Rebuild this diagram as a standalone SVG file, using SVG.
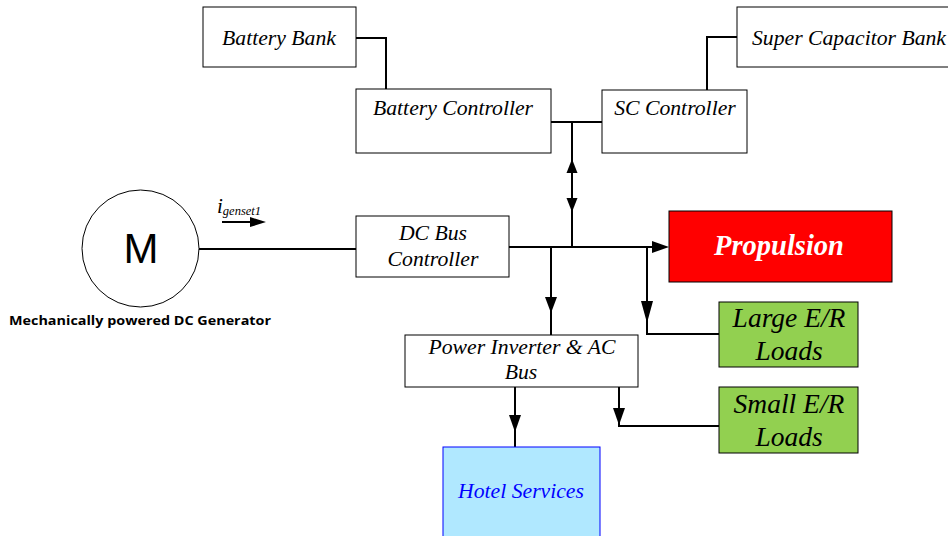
<svg xmlns="http://www.w3.org/2000/svg" width="948" height="536" viewBox="0 0 948 536">
<style>
.box{fill:#fff;stroke:#000;stroke-width:1}
.t{font-family:"Liberation Serif",serif;font-style:italic;font-size:21.7px;fill:#000;text-anchor:middle}
.big{font-size:27.5px}
.w{stroke:#000;stroke-width:2;fill:none}
</style>
<rect width="948" height="536" fill="#fff"/>
<g id="connectors">
<polyline class="w" points="356,38 386,38 386,89"/>
<polyline class="w" points="737,37 707,37 707,90"/>
<line class="w" x1="551" y1="122" x2="602" y2="122"/>
<line class="w" x1="572" y1="122" x2="572" y2="247"/>
<path d="M572,159 L566.5,173 L577.5,173 z" fill="#000"/>
<path d="M572,212 L566.5,198 L577.5,198 z" fill="#000"/>
<line class="w" x1="199" y1="249" x2="356" y2="249"/>
<line class="w" x1="509" y1="247" x2="652" y2="247"/>
<path d="M669,247 L652,241 L652,253 z" fill="#000"/>
<line class="w" x1="551" y1="247" x2="551" y2="335"/>
<path d="M551,313 L545,297 L557,297 z" fill="#000"/>
<polyline class="w" points="647,247 647,334 719,334"/>
<path d="M647,323 L641,301 L653,301 z" fill="#000"/>
<line class="w" x1="515" y1="387" x2="515" y2="447"/>
<path d="M515,432 L509,415 L521,415 z" fill="#000"/>
<polyline class="w" points="619,387 619,426 719,426"/>
<path d="M619,425 L613,408 L625,408 z" fill="#000"/>
<line class="w" x1="222" y1="222" x2="252" y2="222"/>
<path d="M266,222 L250,217 L250,227 z" fill="#000"/>
</g>
<g id="battery-bank">
<rect class="box" x="203" y="7" width="153" height="60"/>
<text class="t" x="279" y="45">Battery Bank</text>
</g>
<g id="battery-controller">
<rect class="box" x="356" y="89" width="195" height="64"/>
<text class="t" x="453" y="115">Battery Controller</text>
</g>
<g id="sc-controller">
<rect class="box" x="602" y="90" width="145" height="63"/>
<text class="t" x="675" y="115">SC Controller</text>
</g>
<g id="super-capacitor-bank">
<rect class="box" x="737" y="7" width="215" height="60"/>
<text class="t" x="752" y="45" style="text-anchor:start">Super Capacitor Bank</text>
</g>
<g id="generator">
<circle cx="140.5" cy="248.5" r="58.5" fill="#fff" stroke="#000" stroke-width="1"/>
<text x="141" y="263" font-family="'Liberation Sans',sans-serif" font-size="42" text-anchor="middle">M</text>
<text x="140" y="325" font-family="'Open Sans','Liberation Sans',sans-serif" font-weight="bold" font-size="12.5" text-anchor="middle" textLength="262" lengthAdjust="spacingAndGlyphs">Mechanically powered DC Generator</text>
<text x="217" y="213" font-family="'Liberation Serif',serif" font-style="italic" font-size="21">i<tspan font-size="12.5" dy="2">genset1</tspan></text>
</g>
<g id="dc-bus-controller">
<rect class="box" x="356" y="216" width="153" height="61"/>
<text class="t" x="433" y="240">DC Bus</text>
<text class="t" x="433" y="266">Controller</text>
</g>
<g id="propulsion">
<rect x="669" y="211" width="223" height="71" fill="#ff0000" stroke="#000" stroke-width="1"/>
<text class="t" x="779" y="255" style="font-size:28.5px;font-weight:bold;fill:#fff">Propulsion</text>
</g>
<g id="large-er-loads">
<rect x="719" y="302" width="139" height="65" fill="#92d050" stroke="#000" stroke-width="1"/>
<text class="t big" x="789" y="327">Large E/R</text>
<text class="t big" x="789" y="360">Loads</text>
</g>
<g id="small-er-loads">
<rect x="719" y="387" width="139" height="66" fill="#92d050" stroke="#000" stroke-width="1"/>
<text class="t big" x="789" y="413">Small E/R</text>
<text class="t big" x="789" y="446">Loads</text>
</g>
<g id="power-inverter">
<rect class="box" x="405" y="335" width="233" height="52"/>
<text class="t" x="522" y="354">Power Inverter &amp; AC</text>
<text class="t" x="521" y="379">Bus</text>
</g>
<g id="hotel-services">
<rect x="443" y="447" width="157" height="92" fill="#b0e8ff" stroke="#0000ff" stroke-width="1"/>
<text class="t" x="521" y="498" style="fill:#0000ff">Hotel Services</text>
</g>
</svg>
